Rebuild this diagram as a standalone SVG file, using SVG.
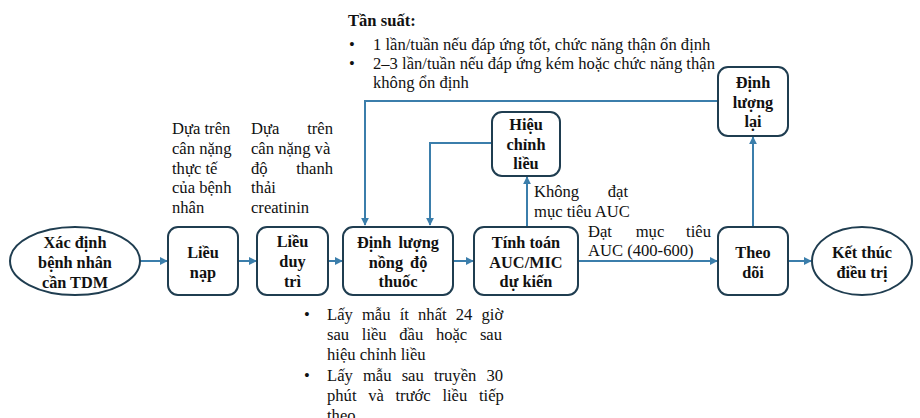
<svg xmlns="http://www.w3.org/2000/svg" width="920" height="418" viewBox="0 0 920 418">
<defs>
<style>
.box{fill:#fff;stroke:#1f3d50;stroke-width:2}
.bt{font-family:"Liberation Serif",serif;font-size:16.3px;font-weight:bold;fill:#111;text-anchor:middle}
.t{font-family:"Liberation Serif",serif;font-size:16.6px;fill:#111}
.c{fill:none;stroke:#3b7eab;stroke-width:2}
</style>
<marker id="ah" viewBox="0 0 10 10" refX="9" refY="5" markerWidth="4" markerHeight="4" orient="auto" markerUnits="strokeWidth">
<path d="M0,0 L10,5 L0,10 z" fill="#3b7eab"/>
</marker>
</defs>
<rect width="920" height="418" fill="#fff"/>

<g id="connectors">
<path class="c" d="M140,261 H167" marker-end="url(#ah)"/>
<path class="c" d="M238,261 H256" marker-end="url(#ah)"/>
<path class="c" d="M328,261 H342" marker-end="url(#ah)"/>
<path class="c" d="M453,261 H473" marker-end="url(#ah)"/>
<path class="c" d="M578,261 H717" marker-end="url(#ah)"/>
<path class="c" d="M788,261 H811" marker-end="url(#ah)"/>
<path class="c" d="M527,226 V177" marker-end="url(#ah)"/>
<path class="c" d="M492,143 H430 V225" marker-end="url(#ah)"/>
<path class="c" d="M753,228 V137" marker-end="url(#ah)"/>
<path class="c" d="M718,101 H365 V225" marker-end="url(#ah)"/>
</g>

<g id="n-start">
<ellipse class="box" cx="75" cy="261" rx="65" ry="34"/>
<text class="bt" x="75" y="248">Xác định</text>
<text class="bt" x="75" y="268">bệnh nhân</text>
<text class="bt" x="75" y="288">cần TDM</text>
</g>
<g id="n-lieunap">
<rect class="box" x="168" y="227" width="70" height="68" rx="10"/>
<text class="bt" x="203" y="258">Liều</text>
<text class="bt" x="203" y="278">nạp</text>
</g>
<g id="n-lieuduytri">
<rect class="box" x="257" y="227" width="71" height="68" rx="10"/>
<text class="bt" x="292.5" y="247">Liều</text>
<text class="bt" x="292.5" y="267">duy</text>
<text class="bt" x="292.5" y="287">trì</text>
</g>
<g id="n-dinhluong">
<rect class="box" x="343" y="227" width="110" height="68" rx="10"/>
<text class="bt" x="398" y="248" word-spacing="3">Định lượng</text>
<text class="bt" x="398" y="268" word-spacing="3">nồng độ</text>
<text class="bt" x="398" y="287">thuốc</text>
</g>
<g id="n-tinhtoan">
<rect class="box" x="474" y="227" width="104" height="68" rx="10"/>
<text class="bt" x="526" y="248">Tính toán</text>
<text class="bt" x="526" y="268">AUC/MIC</text>
<text class="bt" x="526" y="287">dự kiến</text>
</g>
<g id="n-hieuchinh">
<rect class="box" x="492" y="112" width="68" height="64" rx="10"/>
<text class="bt" x="526" y="130">Hiệu</text>
<text class="bt" x="526" y="150">chỉnh</text>
<text class="bt" x="526" y="169">liều</text>
</g>
<g id="n-dinhluonglai">
<rect class="box" x="718" y="67" width="70" height="69" rx="10"/>
<text class="bt" x="753" y="88">Định</text>
<text class="bt" x="753" y="108">lượng</text>
<text class="bt" x="753" y="127">lại</text>
</g>
<g id="n-theodoi">
<rect class="box" x="718" y="227" width="70" height="68" rx="10"/>
<text class="bt" x="753" y="258">Theo</text>
<text class="bt" x="753" y="278">dõi</text>
</g>
<g id="n-end">
<ellipse class="box" cx="862" cy="261" rx="50" ry="34"/>
<text class="bt" x="862" y="258">Kết thúc</text>
<text class="bt" x="862" y="278">điều trị</text>
</g>

<g id="notes">
<text class="t" x="348" y="26" font-weight="bold">Tần suất:</text>
<text class="t" x="349" y="50">•</text>
<text class="t" x="373" y="50">1 lần/tuần nếu đáp ứng tốt, chức năng thận ổn định</text>
<text class="t" x="349" y="69">•</text>
<text class="t" x="373" y="69">2–3 lần/tuần nếu đáp ứng kém hoặc chức năng thận</text>
<text class="t" x="373" y="88">không ổn định</text>

<text class="t" x="172" y="134">Dựa trên</text>
<text class="t" x="172" y="154">cân nặng</text>
<text class="t" x="172" y="174">thực tế</text>
<text class="t" x="172" y="193">của bệnh</text>
<text class="t" x="172" y="213">nhân</text>

<text class="t" x="251" y="134">Dựa</text>
<text class="t" x="333" y="134" text-anchor="end">trên</text>
<text class="t" x="251" y="154">cân nặng và</text>
<text class="t" x="251" y="174">độ</text>
<text class="t" x="333" y="174" text-anchor="end">thanh</text>
<text class="t" x="251" y="193">thải</text>
<text class="t" x="251" y="213">creatinin</text>

<text class="t" x="534" y="197">Không</text>
<text class="t" x="628" y="197" text-anchor="end">đạt</text>
<text class="t" x="534" y="217">mục tiêu AUC</text>

<text class="t" x="588" y="237">Đạt</text>
<text class="t" x="650" y="237" text-anchor="middle">mục</text>
<text class="t" x="711" y="237" text-anchor="end">tiêu</text>
<text class="t" x="588" y="256">AUC (400-600)</text>

<text class="t" x="304" y="320">•</text>
<text class="t" x="327" y="320" word-spacing="5">Lấy mẫu ít nhất 24 giờ</text>
<text class="t" x="327" y="340" word-spacing="8.5">sau liều đầu hoặc sau</text>
<text class="t" x="327" y="360">hiệu chỉnh liều</text>
<text class="t" x="304" y="381">•</text>
<text class="t" x="327" y="381" word-spacing="6">Lấy mẫu sau truyền 30</text>
<text class="t" x="327" y="401" word-spacing="7.5">phút và trước liều tiếp</text>
<text class="t" x="327" y="421">theo</text>
</g>
</svg>
